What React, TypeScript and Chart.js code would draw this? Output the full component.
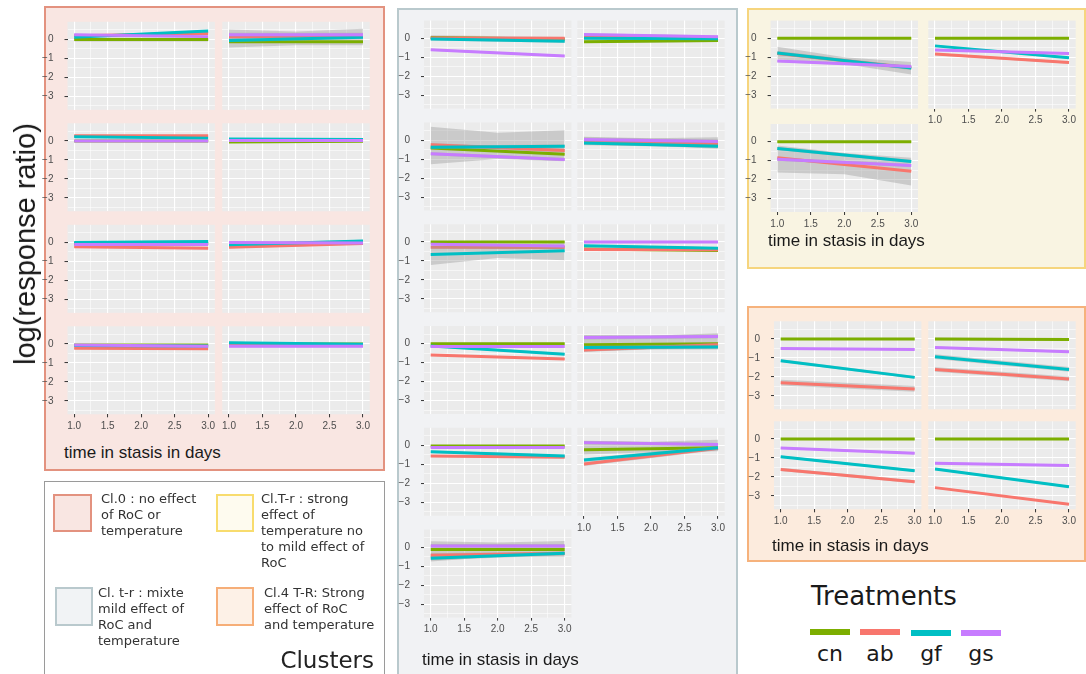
import React, { useEffect, useRef } from "react";
import { Chart, registerables } from "chart.js";

Chart.register(...registerables);

// ---------- data ----------
const TREATMENTS = ["cn", "ab", "gf", "gs"];
const COLORS = ["#7CAE00", "#F8766D", "#00BFC4", "#C77CFF"];
const DAYS = [1, 3];
const BAND_DAYS = [1, 2, 3];
const X_MAJOR = [1, 1.5, 2, 2.5, 3];
const X_MINOR = [1.25, 1.75, 2.25, 2.75];
const X_LABELS = ["1.0", "1.5", "2.0", "2.5", "3.0"];
const Y_MAJOR = [0, -1, -2, -3];
const Y_MINOR = [0.5, -0.5, -1.5, -2.5, -3.5];
const Y_LABELS = ["0", "\u22121", "\u22122", "\u22123"];

// each panel: [cn@1, cn@3, ab@1, ab@3, gf@1, gf@3, gs@1, gs@3]
const CL0_LINES = [
  [0, 0, 0.2, 0.32, 0.12, 0.45, 0.25, 0.15],
  [-0.12, -0.12, 0.15, 0.2, -0.05, 0.12, 0.25, 0.25],
  [0, 0, 0.27, 0.27, 0.22, 0.15, 0, 0],
  [-0.05, -0.02, 0.05, 0.05, 0.1, 0.08, 0.02, 0.02],
  [-0.05, -0.05, -0.22, -0.3, 0.0, 0.05, -0.1, -0.1],
  [-0.05, -0.05, -0.25, -0.05, -0.12, 0.08, 0.0, -0.03],
  [-0.05, -0.05, -0.22, -0.25, -0.08, -0.1, -0.05, -0.12],
  [0, 0, -0.05, -0.05, 0.07, -0.02, -0.12, -0.12],
];
// standard-error half widths [cn, ab, gf, gs]
const CL0_SE = [
  [0.1, 0.05, 0.05, 0.05],
  [0.1, 0.1, 0.1, 0.1],
  [0.05, 0.05, 0.05, 0.05],
  [0.04, 0.04, 0.04, 0.04],
  [0.06, 0.06, 0.06, 0.06],
  [0.06, 0.06, 0.06, 0.06],
  [0.05, 0.05, 0.05, 0.05],
  [0.05, 0.05, 0.05, 0.05],
];
// wide ribbons: [panel, series, lo@1, lo@2, lo@3, hi@1, hi@2, hi@3]
const CL0_BANDS = [[1, 0, -0.42, -0.3, -0.3, 0.52, 0.42, 0.57]];

const CLTR_MIX_LINES = [
  [0.04, -0.05, 0.02, 0.0, -0.04, -0.15, -0.6, -0.93],
  [-0.18, -0.12, 0.05, 0.0, 0.0, -0.02, 0.2, 0.08],
  [-0.42, -0.75, -0.25, -0.55, -0.38, -0.33, -0.72, -1.02],
  [-0.1, -0.2, -0.08, -0.22, -0.15, -0.32, 0.03, -0.07],
  [0, 0, -0.28, -0.3, -0.67, -0.47, -0.12, -0.22],
  [-0.38, -0.45, -0.4, -0.42, -0.2, -0.33, 0, 0],
  [0, 0, -0.6, -0.8, -0.12, -0.55, -0.15, -0.15],
  [-0.05, 0.0, -0.33, -0.05, -0.2, -0.17, 0.32, 0.38],
  [-0.03, -0.03, -0.55, -0.62, -0.33, -0.55, -0.1, -0.1],
  [-0.22, -0.12, -0.98, -0.15, -0.77, -0.12, 0.15, 0.05],
  [-0.12, -0.12, -0.42, -0.32, -0.58, -0.32, 0.07, 0.07],
];
const CLTR_MIX_SE = [
  [0.12, 0.06, 0.08, 0.05],
  [0.07, 0.07, 0.07, 0.07],
  [0.1, 0.1, 0.1, 0.08],
  [0.1, 0.1, 0.1, 0.1],
  [0.05, 0.06, 0.1, 0.05],
  [0.05, 0.05, 0.05, 0.04],
  [0.05, 0.05, 0.06, 0.05],
  [0.1, 0.1, 0.1, 0.1],
  [0.05, 0.05, 0.06, 0.05],
  [0.1, 0.1, 0.1, 0.08],
  [0.1, 0.1, 0.1, 0.1],
];
const CLTR_MIX_BANDS = [
  [2, 0, -1.27, -1.0, -1.12, 0.7, 0.38, 0.52],
  [3, 0, -0.27, -0.3, -0.45, 0.17, 0.1, 0.15],
  [4, 2, -1.22, -0.85, -0.97, -0.2, -0.2, -0.05],
  [7, 0, -0.42, -0.3, -0.3, 0.45, 0.42, 0.55],
  [9, 0, -0.48, -0.35, -0.3, 0.25, 0.2, 0.3],
  [10, 0, -0.75, -0.5, -0.5, 0.32, 0.25, 0.33],
];

const CLTEMP_LINES = [
  [0, 0, -0.8, -1.55, -0.77, -1.57, -1.2, -1.48],
  [0, 0, -0.83, -1.28, -0.4, -1.03, -0.62, -0.8],
  [0, 0, -0.84, -1.55, -0.36, -1.04, -0.93, -1.25],
];
const CLTEMP_SE = [
  [0.03, 0.1, 0.1, 0.06],
  [0.03, 0.06, 0.05, 0.05],
  [0.03, 0.1, 0.08, 0.08],
];
const CLTEMP_BANDS = [
  [0, 1, -1.1, -1.35, -1.9, -0.45, -1.0, -1.25],
  [2, 1, -1.62, -1.72, -2.3, -0.2, -0.6, -0.85],
];

const CL4_LINES = [
  [0, 0, -2.3, -2.63, -1.14, -2.02, -0.5, -0.55],
  [0, -0.03, -1.6, -2.1, -0.93, -1.6, -0.45, -0.67],
  [0, 0, -1.6, -2.25, -0.93, -1.67, -0.47, -0.75],
  [0, 0, -2.56, -3.44, -1.58, -2.51, -1.28, -1.4],
];
const CL4_SE = [
  [0.04, 0.15, 0.07, 0.04],
  [0.07, 0.12, 0.12, 0.05],
  [0.04, 0.08, 0.06, 0.05],
  [0.03, 0.04, 0.05, 0.05],
];
const CL4_BANDS: number[][] = [];

// ---------- layout ----------
const X_MIN = 0.9;
const X_MAX = 3.1;
const Y_MIN = -3.7;
const Y_MAX = 0.93;
const PW = 147.4;
const PH = 88;
const RIBBON = "rgba(153,153,153,0.4)";
const TICK_FONT = { family: "'Liberation Sans', Arial, sans-serif", size: 10 };

const BOXES = [
  { lines: CL0_LINES, se: CL0_SE, bands: CL0_BANDS, cols: [67.5, 222.3], top0: 21.8, pitch: 101.5, xShown: [6, 7] },
  { lines: CLTR_MIX_LINES, se: CLTR_MIX_SE, bands: CLTR_MIX_BANDS, cols: [424, 577.3], top0: 20.6, pitch: 101.8, xShown: [9, 10] },
  { lines: CLTEMP_LINES, se: CLTEMP_SE, bands: CLTEMP_BANDS, cols: [770.6, 928.3], top0: 20.6, pitch: 103.4, xShown: [1, 2] },
  { lines: CL4_LINES, se: CL4_SE, bands: CL4_BANDS, cols: [774, 928.3], top0: 321.3, pitch: 100, xShown: [2, 3] },
];

const bgPlugin = {
  id: "panelBg",
  beforeDraw(chart: any) {
    const { ctx, chartArea: a } = chart;
    ctx.save();
    ctx.fillStyle = "#EBEBEB";
    ctx.fillRect(a.left, a.top, a.right - a.left, a.bottom - a.top);
    ctx.restore();
  },
};

type PanelProps = {
  lines: number[];
  se: number[];
  bands: number[][];
  left: number;
  top: number;
  showX: boolean;
  showY: boolean;
};

function Panel({ lines, se, bands, left, top, showX, showY }: PanelProps) {
  const ref = useRef<HTMLCanvasElement>(null);
  const yw = showY ? 30 : 0;
  const xh = showX ? 20 : 0;
  const cl = Math.floor(left - yw - 6);
  const padL = left - yw - cl;
  const cw = Math.ceil(left + PW + 8) - cl;
  const padR = cw - (padL + yw + PW);
  const ct = Math.floor(top - 4);
  const padT = top - ct;
  const ch = Math.ceil(padT + PH + xh + 1);
  const padB = ch - (padT + PH + xh);

  useEffect(() => {
    if (!ref.current) return;
    const datasets: any[] = [];
    for (let s = 0; s < TREATMENTS.length; s++) {
      const y1 = lines[2 * s];
      const y3 = lines[2 * s + 1];
      const band = bands.find((b) => b[0] === s);
      let lo: { x: number; y: number }[];
      let hi: { x: number; y: number }[];
      if (band) {
        lo = BAND_DAYS.map((d, i) => ({ x: d, y: band[1 + i] }));
        hi = BAND_DAYS.map((d, i) => ({ x: d, y: band[4 + i] }));
      } else {
        lo = [
          { x: DAYS[0], y: y1 - se[s] },
          { x: DAYS[1], y: y3 - se[s] },
        ];
        hi = [
          { x: DAYS[0], y: y1 + se[s] },
          { x: DAYS[1], y: y3 + se[s] },
        ];
      }
      datasets.push({ label: TREATMENTS[s] + " lo", data: lo, borderWidth: 0, borderColor: "rgba(0,0,0,0)", pointRadius: 0, fill: false });
      datasets.push({ label: TREATMENTS[s] + " hi", data: hi, borderWidth: 0, borderColor: "rgba(0,0,0,0)", backgroundColor: RIBBON, pointRadius: 0, fill: "-1" });
      datasets.push({
        label: TREATMENTS[s],
        data: [
          { x: DAYS[0], y: y1 },
          { x: DAYS[1], y: y3 },
        ],
        borderColor: COLORS[s],
        borderWidth: 3,
        borderCapStyle: "butt",
        pointRadius: 0,
        fill: false,
      });
    }
    datasets.forEach((d, i) => (d.order = datasets.length - i));

    const xTicks = [...X_MAJOR, ...X_MINOR].sort((a, b) => a - b);
    const yTicks = [...Y_MAJOR, ...Y_MINOR].sort((a, b) => a - b);

    const chart = new Chart(ref.current, {
      type: "line",
      data: { datasets },
      plugins: [bgPlugin],
      options: {
        animation: false,
        responsive: false,
        devicePixelRatio: 1,
        events: [],
        layout: { padding: { left: padL, right: padR, top: padT, bottom: padB } },
        plugins: { legend: { display: false }, tooltip: { enabled: false } },
        scales: {
          x: {
            type: "linear",
            min: X_MIN,
            max: X_MAX,
            afterBuildTicks: (axis: any) => {
              axis.ticks = xTicks.map((v) => ({ value: v }));
            },
            afterFit: (axis: any) => {
              axis.height = xh;
              axis.paddingLeft = 0;
              axis.paddingRight = 0;
              axis.paddingTop = 0;
              axis.paddingBottom = 0;
            },
            border: { display: false },
            grid: {
              color: "#FFFFFF",
              lineWidth: (c: any) => (X_MAJOR.includes(c.tick?.value) ? 1.1 : 0.55),
              drawTicks: showX,
              tickLength: 3,
              tickWidth: 1,
              tickColor: (c: any) => (X_MAJOR.includes(c.tick?.value) ? "#333333" : "rgba(0,0,0,0)"),
            },
            ticks: {
              display: showX,
              autoSkip: false,
              maxRotation: 0,
              padding: 3,
              color: "#4D4D4D",
              font: TICK_FONT,
              callback: (v: any) => {
                const i = X_MAJOR.indexOf(Number(v));
                return i >= 0 ? X_LABELS[i] : "";
              },
            },
          },
          y: {
            type: "linear",
            min: Y_MIN,
            max: Y_MAX,
            afterBuildTicks: (axis: any) => {
              axis.ticks = yTicks.map((v) => ({ value: v }));
            },
            afterFit: (axis: any) => {
              axis.width = yw;
              axis.paddingLeft = 0;
              axis.paddingRight = 0;
              axis.paddingTop = 0;
              axis.paddingBottom = 0;
            },
            border: { display: false },
            grid: {
              color: "#FFFFFF",
              lineWidth: (c: any) => (Y_MAJOR.includes(c.tick?.value) ? 1.1 : 0.55),
              drawTicks: showY,
              tickLength: 3,
              tickWidth: 1,
              tickColor: (c: any) => (Y_MAJOR.includes(c.tick?.value) ? "#333333" : "rgba(0,0,0,0)"),
            },
            ticks: {
              display: showY,
              autoSkip: false,
              padding: 11,
              color: "#4D4D4D",
              font: TICK_FONT,
              callback: (v: any) => {
                const i = Y_MAJOR.indexOf(Number(v));
                return i >= 0 ? Y_LABELS[i] : "";
              },
            },
          },
        },
      } as any,
    });
    return () => chart.destroy();
  }, []);

  return (
    <canvas
      ref={ref}
      width={cw}
      height={ch}
      style={{ position: "absolute", left: cl, top: ct, width: cw, height: ch }}
    />
  );
}

const abs = (s: React.CSSProperties): React.CSSProperties => ({ position: "absolute", boxSizing: "border-box", ...s });
const SANS = "'Liberation Sans', Arial, sans-serif";
const DEJA = "'DejaVu Sans', Verdana, sans-serif";

function Title({ left, top }: { left: number; top: number }) {
  return (
    <div style={abs({ left, top, fontFamily: SANS, fontSize: 17, lineHeight: "20px", color: "#1A1A1A", whiteSpace: "nowrap" })}>
      time in stasis in days
    </div>
  );
}

function LegendEntry({ left, top, w, h, border, fill, textLeft, textTop, lines }: any) {
  return (
    <>
      <div style={abs({ left, top, width: w, height: h, border: `2px solid ${border}`, background: fill })} />
      <div style={abs({ left: textLeft, top: textTop, fontFamily: DEJA, fontSize: 13, lineHeight: "16px", color: "#333", whiteSpace: "nowrap" })}>
        {lines.map((l: string, i: number) => (
          <div key={i}>{l}</div>
        ))}
      </div>
    </>
  );
}

export default function App() {
  const panels: React.ReactNode[] = [];
  BOXES.forEach((box, bi) => {
    box.lines.forEach((ln, pi) => {
      const row = Math.floor(pi / 2);
      const col = pi % 2;
      const bands = box.bands.filter((b) => b[0] === pi).map((b) => b.slice(1));
      panels.push(
        <Panel
          key={`${bi}-${pi}`}
          lines={ln}
          se={box.se[pi]}
          bands={bands}
          left={box.cols[col]}
          top={box.top0 + row * box.pitch}
          showX={box.xShown.includes(pi)}
          showY={col === 0}
        />
      );
    });
  });

  return (
    <div style={{ position: "absolute", left: 0, top: 0, width: 1086, height: 674, overflow: "hidden", background: "#FFFFFF" }}>
      {/* cluster boxes */}
      <div style={abs({ left: 44, top: 6, width: 341, height: 465, border: "2px solid #E3927F", background: "#F9E6E2" })} />
      <div style={abs({ left: 397, top: 8, width: 341, height: 690, border: "2px solid #B9C9CD", background: "#F1F2F4" })} />
      <div style={abs({ left: 747, top: 8, width: 339, height: 261, border: "2px solid #F6D57E", background: "#F9F4E2" })} />
      <div style={abs({ left: 747, top: 306, width: 339, height: 256, border: "2px solid #F6B27C", background: "#FCEBDD" })} />

      {panels}

      <Title left={64} top={443} />
      <Title left={422} top={650} />
      <Title left={768} top={231} />
      <Title left={772} top={536} />

      {/* y axis label */}
      <div
        style={abs({
          left: 25,
          top: 244,
          transform: "translate(-50%, -50%) rotate(-90deg)",
          fontFamily: SANS,
          fontSize: 29,
          lineHeight: "30px",
          color: "#1A1A1A",
          whiteSpace: "nowrap",
        })}
      >
        log(response ratio)
      </div>

      {/* clusters legend */}
      <div style={abs({ left: 44, top: 481, width: 341, height: 220, border: "1.5px solid #9A9A9A", background: "#FFFFFF" })} />
      <LegendEntry left={53} top={494} w={39} h={38} border="#E3927F" fill="#F9E6E2" textLeft={101} textTop={490.5}
        lines={["Cl.0 : no effect", "of RoC or", "temperature"]} />
      <LegendEntry left={216} top={494} w={38} h={38} border="#F8DC6E" fill="#FEFBEF" textLeft={261} textTop={490.5}
        lines={["Cl.T-r : strong", "effect of", "temperature no", "to mild effect of", "RoC"]} />
      <LegendEntry left={55} top={587} w={38} h={39} border="#B9C9CD" fill="#F1F3F5" textLeft={98} textTop={584.5}
        lines={["Cl. t-r : mixte", "mild effect of", "RoC and", "temperature"]} />
      <LegendEntry left={216} top={587} w={38} h={39} border="#F6AE78" fill="#FDF1E7" textLeft={264} textTop={584.5}
        lines={["Cl.4 T-R: Strong", "effect of RoC", "and temperature"]} />
      <div style={abs({ right: 1086 - 374, top: 648.5, fontFamily: DEJA, fontSize: 23, lineHeight: "23px", color: "#222", whiteSpace: "nowrap" })}>
        Clusters
      </div>

      {/* treatments legend */}
      <div style={abs({ left: 811, top: 583, fontFamily: DEJA, fontSize: 26, lineHeight: "26px", color: "#1A1A1A", whiteSpace: "nowrap" })}>
        Treatments
      </div>
      {TREATMENTS.map((t, i) => {
        const x0 = [810, 860, 911, 961][i];
        return (
          <React.Fragment key={t}>
            <div style={abs({ left: x0, top: i < 2 ? 629 : 630, width: 40, height: 6, background: COLORS[i] })} />
            <div style={abs({ left: x0 - 10, top: 643.4, width: 60, textAlign: "center", fontFamily: DEJA, fontSize: 22, lineHeight: "22px", color: "#1A1A1A" })}>
              {t}
            </div>
          </React.Fragment>
        );
      })}
    </div>
  );
}
